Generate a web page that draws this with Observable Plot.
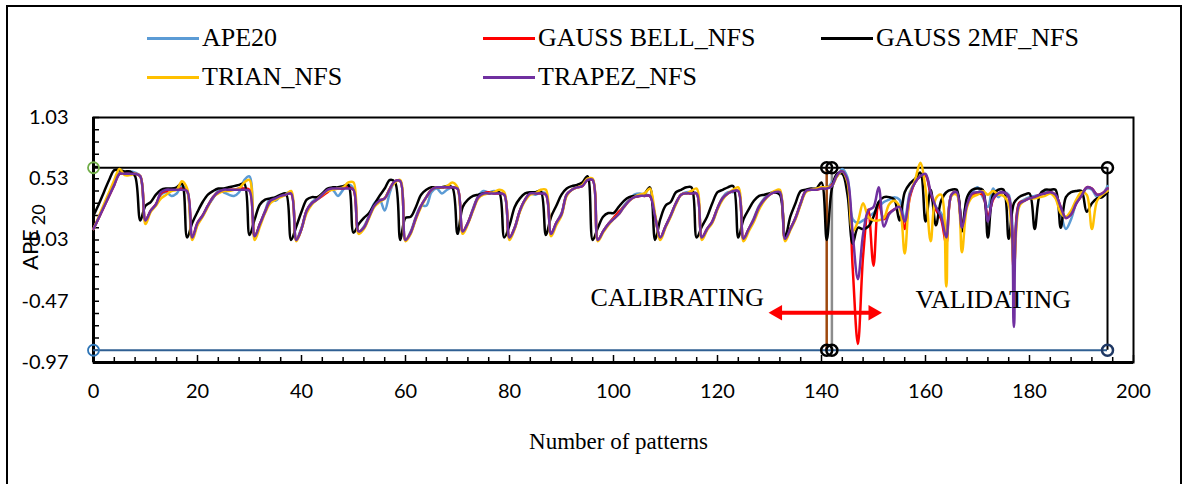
<!DOCTYPE html>
<html>
<head>
<meta charset="utf-8">
<script src="https://cdn.jsdelivr.net/npm/d3@7"></script>
<script src="https://cdn.jsdelivr.net/npm/@observablehq/plot@0.6"></script>
<style>
  html, body { margin: 0; padding: 0; background: #fff; }
  #page { position: relative; width: 1189px; height: 484px; overflow: hidden; background: #fff; }
  #border { position: absolute; left: 6px; top: 5px; width: 1176px; height: 530px; border: 2px solid #000; box-sizing: border-box; }
  .key-text { position: absolute; height: 26px; line-height: 26px; font-size: 26px; font-family: "Liberation Serif", "Times New Roman", serif; color: #000; white-space: nowrap; }
  .key-line { position: absolute; height: 3px; width: 52px; }
  #chart { position: absolute; left: 0; top: 100px; }
</style>
</head>
<body>
<div id="page">
  <div id="border"></div>
  <div id="legend"></div>
  <div id="chart"></div>
</div>
<script>
// Observed APE20 and the four neuro-fuzzy model outputs, one value per pattern (0..195)
const ape20 = [
  0.12, 0.21, 0.31, 0.41, 0.50, 0.58, 0.58, 0.59, 0.58, 0.55,
  0.19, 0.27, 0.32, 0.40, 0.42, 0.39, 0.41, 0.47, 0.43, 0.05,
  0.16, 0.23, 0.31, 0.37, 0.43, 0.42, 0.40, 0.39, 0.42, 0.52,
  0.55, 0.06, 0.16, 0.27, 0.37, 0.35, 0.39, 0.41, 0.42, 0.04,
  0.13, 0.27, 0.34, 0.37, 0.41, 0.44, 0.44, 0.39, 0.44, 0.48,
  0.45, 0.10, 0.14, 0.23, 0.33, 0.36, 0.27, 0.42, 0.51, 0.51,
  0.03, 0.10, 0.22, 0.31, 0.31, 0.42, 0.45, 0.41, 0.44, 0.46,
  0.45, 0.10, 0.17, 0.29, 0.39, 0.43, 0.42, 0.43, 0.42, 0.40,
  0.05, 0.13, 0.27, 0.36, 0.41, 0.40, 0.42, 0.41, 0.08, 0.17,
  0.25, 0.40, 0.44, 0.47, 0.48, 0.52, 0.52, 0.03, 0.10, 0.16,
  0.21, 0.25, 0.31, 0.36, 0.40, 0.41, 0.40, 0.39, 0.22, 0.05,
  0.14, 0.23, 0.33, 0.40, 0.42, 0.42, 0.41, 0.05, 0.12, 0.18,
  0.29, 0.38, 0.42, 0.42, 0.43, 0.04, 0.12, 0.21, 0.31, 0.37,
  0.41, 0.42, 0.43, 0.04, 0.12, 0.21, 0.33, 0.43, 0.44, 0.45,
  0.45, 0.45, 0.50, 0.55, 0.61, 0.54, 0.20, 0.17, 0.19, 0.22,
  0.25, 0.30, 0.34, 0.36, 0.38, 0.36, 0.20, 0.42, 0.50, 0.55,
  0.56, 0.40, 0.30, 0.25, 0.12, 0.40, 0.42, 0.15, 0.36, 0.42,
  0.46, 0.38, 0.30, 0.45, 0.38, 0.42, 0.40, 0.01, 0.33, 0.36,
  0.38, 0.39, 0.40, 0.42, 0.43, 0.38, 0.25, 0.12, 0.20, 0.33,
  0.40, 0.45, 0.44, 0.38, 0.40, 0.47
];
const gaussBellNfs = [
  0.12, 0.21, 0.30, 0.39, 0.48, 0.57, 0.57, 0.57, 0.57, 0.55,
  0.19, 0.27, 0.32, 0.41, 0.43, 0.44, 0.44, 0.45, 0.43, 0.05,
  0.17, 0.23, 0.31, 0.38, 0.42, 0.43, 0.44, 0.44, 0.45, 0.45,
  0.44, 0.06, 0.16, 0.26, 0.35, 0.37, 0.39, 0.40, 0.41, 0.03,
  0.12, 0.27, 0.33, 0.36, 0.39, 0.42, 0.45, 0.45, 0.45, 0.46,
  0.44, 0.10, 0.13, 0.22, 0.31, 0.35, 0.37, 0.45, 0.51, 0.51,
  0.03, 0.09, 0.21, 0.31, 0.38, 0.44, 0.46, 0.46, 0.46, 0.46,
  0.45, 0.10, 0.17, 0.28, 0.38, 0.41, 0.42, 0.41, 0.41, 0.40,
  0.05, 0.13, 0.27, 0.36, 0.41, 0.41, 0.41, 0.40, 0.08, 0.17,
  0.24, 0.40, 0.44, 0.46, 0.47, 0.52, 0.52, 0.03, 0.10, 0.16,
  0.21, 0.26, 0.30, 0.35, 0.38, 0.39, 0.39, 0.39, 0.22, 0.05,
  0.14, 0.23, 0.33, 0.40, 0.41, 0.41, 0.41, 0.05, 0.12, 0.18,
  0.29, 0.37, 0.41, 0.43, 0.43, 0.04, 0.12, 0.20, 0.30, 0.36,
  0.40, 0.42, 0.42, 0.04, 0.12, 0.21, 0.33, 0.43, 0.44, 0.44,
  0.45, 0.45, 0.48, 0.56, 0.59, 0.50, -0.20, -0.82, -0.10, 0.28,
  -0.18, 0.33, 0.20, 0.25, 0.28, 0.30, 0.12, 0.38, 0.50, 0.55,
  0.56, 0.40, 0.28, 0.20, 0.00, 0.40, 0.42, 0.15, 0.32, 0.40,
  0.41, 0.40, 0.22, 0.36, 0.41, 0.42, 0.38, -0.22, 0.33, 0.35,
  0.37, 0.38, 0.40, 0.41, 0.42, 0.40, 0.30, 0.21, 0.24, 0.33,
  0.39, 0.46, 0.45, 0.40, 0.41, 0.45
];
const gauss2mfNfs = [
  0.23, 0.32, 0.42, 0.52, 0.60, 0.60, 0.59, 0.59, 0.55, 0.19,
  0.31, 0.34, 0.40, 0.44, 0.45, 0.45, 0.46, 0.49, 0.05, 0.17,
  0.26, 0.34, 0.40, 0.43, 0.45, 0.45, 0.46, 0.47, 0.48, 0.49,
  0.07, 0.20, 0.32, 0.36, 0.37, 0.38, 0.40, 0.41, 0.03, 0.14,
  0.26, 0.36, 0.38, 0.38, 0.41, 0.45, 0.46, 0.46, 0.47, 0.48,
  0.09, 0.16, 0.21, 0.25, 0.32, 0.39, 0.45, 0.52, 0.50, 0.03,
  0.21, 0.22, 0.30, 0.40, 0.44, 0.46, 0.46, 0.46, 0.47, 0.46,
  0.08, 0.30, 0.36, 0.39, 0.40, 0.41, 0.41, 0.42, 0.42, 0.05,
  0.15, 0.30, 0.37, 0.41, 0.42, 0.42, 0.43, 0.07, 0.22, 0.31,
  0.40, 0.45, 0.47, 0.48, 0.50, 0.55, 0.03, 0.13, 0.22, 0.25,
  0.25, 0.30, 0.35, 0.38, 0.39, 0.39, 0.41, 0.46, 0.03, 0.20,
  0.31, 0.34, 0.42, 0.44, 0.46, 0.46, 0.05, 0.14, 0.22, 0.33,
  0.42, 0.44, 0.46, 0.47, 0.05, 0.20, 0.28, 0.35, 0.39, 0.40,
  0.41, 0.42, 0.40, 0.05, 0.22, 0.33, 0.43, 0.44, 0.45, 0.45,
  0.50, 0.03, 0.45, 0.57, 0.57, 0.40, 0.00, 0.13, 0.12, 0.14,
  0.22, 0.34, 0.38, 0.38, 0.36, 0.19, 0.42, 0.49, 0.53, 0.58,
  0.18, 0.44, 0.15, 0.35, 0.42, 0.44, 0.44, 0.10, 0.38, 0.44,
  0.45, 0.44, 0.05, 0.40, 0.44, 0.44, 0.04, 0.33, 0.38, 0.40,
  0.41, 0.12, 0.40, 0.44, 0.44, 0.44, 0.13, 0.38, 0.42, 0.43,
  0.43, 0.26, 0.33, 0.37, 0.38, 0.42
];
const trianNfs = [
  0.12, 0.22, 0.32, 0.42, 0.52, 0.61, 0.56, 0.56, 0.57, 0.55,
  0.16, 0.26, 0.31, 0.37, 0.40, 0.43, 0.44, 0.51, 0.45, 0.03,
  0.15, 0.22, 0.30, 0.38, 0.41, 0.43, 0.43, 0.44, 0.45, 0.50,
  0.52, 0.03, 0.14, 0.25, 0.33, 0.36, 0.38, 0.40, 0.43, 0.02,
  0.12, 0.25, 0.32, 0.36, 0.40, 0.43, 0.44, 0.45, 0.46, 0.50,
  0.50, 0.08, 0.12, 0.21, 0.30, 0.34, 0.37, 0.45, 0.50, 0.52,
  0.02, 0.08, 0.20, 0.30, 0.38, 0.44, 0.46, 0.46, 0.47, 0.50,
  0.46, 0.08, 0.16, 0.27, 0.37, 0.40, 0.41, 0.42, 0.44, 0.42,
  0.03, 0.12, 0.26, 0.35, 0.40, 0.41, 0.44, 0.44, 0.06, 0.15,
  0.23, 0.39, 0.44, 0.46, 0.48, 0.53, 0.53, 0.02, 0.09, 0.15,
  0.20, 0.24, 0.30, 0.35, 0.38, 0.40, 0.41, 0.45, 0.24, 0.03,
  0.13, 0.22, 0.32, 0.40, 0.41, 0.43, 0.45, 0.03, 0.11, 0.17,
  0.28, 0.36, 0.41, 0.44, 0.46, 0.02, 0.10, 0.18, 0.28, 0.35,
  0.40, 0.43, 0.44, 0.02, 0.11, 0.20, 0.32, 0.42, 0.44, 0.45,
  0.46, 0.46, 0.47, 0.55, 0.59, 0.50, 0.10, 0.18, 0.33, 0.22,
  0.19, 0.19, 0.21, 0.32, 0.35, 0.30, -0.08, 0.40, 0.52, 0.66,
  0.45, 0.02, 0.37, 0.40, -0.35, 0.39, 0.40, -0.07, 0.30, 0.38,
  0.40, 0.43, 0.40, 0.43, 0.40, 0.39, 0.32, -0.18, 0.30, 0.35,
  0.37, 0.37, 0.38, 0.39, 0.41, 0.37, 0.25, 0.22, 0.27, 0.36,
  0.42, 0.40, 0.12, 0.35, 0.40, 0.43
];
const trapezNfs = [
  0.12, 0.21, 0.30, 0.39, 0.48, 0.57, 0.57, 0.57, 0.57, 0.55,
  0.19, 0.27, 0.32, 0.42, 0.44, 0.44, 0.44, 0.44, 0.43, 0.05,
  0.17, 0.23, 0.31, 0.38, 0.42, 0.44, 0.44, 0.44, 0.44, 0.44,
  0.43, 0.06, 0.16, 0.26, 0.35, 0.37, 0.39, 0.40, 0.41, 0.03,
  0.12, 0.27, 0.33, 0.36, 0.40, 0.44, 0.45, 0.45, 0.45, 0.45,
  0.44, 0.10, 0.13, 0.22, 0.31, 0.35, 0.37, 0.45, 0.51, 0.51,
  0.03, 0.09, 0.21, 0.31, 0.38, 0.44, 0.46, 0.46, 0.46, 0.46,
  0.45, 0.10, 0.17, 0.28, 0.38, 0.41, 0.41, 0.41, 0.41, 0.40,
  0.05, 0.13, 0.27, 0.36, 0.41, 0.41, 0.41, 0.40, 0.08, 0.17,
  0.24, 0.40, 0.44, 0.46, 0.47, 0.52, 0.52, 0.03, 0.10, 0.16,
  0.20, 0.24, 0.30, 0.35, 0.38, 0.39, 0.39, 0.39, 0.22, 0.05,
  0.14, 0.23, 0.33, 0.40, 0.41, 0.41, 0.41, 0.05, 0.12, 0.18,
  0.29, 0.37, 0.41, 0.43, 0.43, 0.04, 0.12, 0.20, 0.30, 0.36,
  0.40, 0.42, 0.42, 0.04, 0.12, 0.21, 0.33, 0.43, 0.44, 0.44,
  0.45, 0.45, 0.47, 0.56, 0.59, 0.52, 0.08, -0.29, 0.08, 0.27,
  0.30, 0.46, 0.14, 0.24, 0.28, 0.30, 0.18, 0.40, 0.50, 0.55,
  0.57, 0.42, 0.30, 0.22, 0.05, 0.40, 0.42, 0.13, 0.32, 0.41,
  0.42, 0.42, 0.18, 0.37, 0.41, 0.42, 0.38, -0.68, 0.32, 0.35,
  0.37, 0.38, 0.40, 0.41, 0.42, 0.40, 0.30, 0.21, 0.24, 0.33,
  0.39, 0.46, 0.45, 0.40, 0.41, 0.45
];

const seriesNames = ["APE20", "GAUSS BELL_NFS", "GAUSS 2MF_NFS", "TRIAN_NFS", "TRAPEZ_NFS"];
const seriesColors = ["#5B9BD5", "#FF0000", "#000000", "#FFC000", "#7030A0"];
const seriesValues = [ape20, gaussBellNfs, gauss2mfNfs, trianNfs, trapezNfs];

// Axis ticks
const xTickLabels = [0, 20, 40, 60, 80, 100, 120, 140, 160, 180, 200];
const yTickLabels = [-0.97, -0.47, 0.03, 0.53, 1.03];

// Calibration / validation window
const upperLimit = 0.62;
const lowerLimit = -0.87;
const calibrationEnd = 141;
const validationStart = 142;
const lastPattern = 195;

// ---- legend (HTML, above the plot area) ----
const legend = document.getElementById("legend");
const legendCols = [147, 483, 821];
const legendRows = [38, 77];
seriesNames.forEach((name, k) => {
  const left = legendCols[k % 3];
  const mid = legendRows[Math.floor(k / 3)];
  const line = document.createElement("div");
  line.className = "key-line";
  line.style.left = left + "px";
  line.style.top = (mid - 1.5) + "px";
  line.style.background = seriesColors[k];
  legend.appendChild(line);
  const label = document.createElement("div");
  label.className = "key-text";
  label.style.left = (left + 55) + "px";
  label.style.top = (mid - 13) + "px";
  label.textContent = name;
  legend.appendChild(label);
});

// ---- chart ----
const W = 1189, H = 384;
const mL = 93, mR = 56, mT = 17, mB = 122;
const plotW = W - mL - mR;
const plotH = H - mT - mB;
const serif = "'Liberation Serif', 'Times New Roman', serif";

const xMinor = d3.range(0, 201, 4).filter(d => d % 20 !== 0);
const yMinor = d3.range(0, 21).map(i => -0.97 + i * 0.1);

const chart = Plot.plot({
  width: W,
  height: H,
  marginLeft: mL,
  marginRight: mR,
  marginTop: mT,
  marginBottom: mB,
  x: {domain: [0, 200]},
  y: {domain: [-0.97, 1.03]},
  style: {background: "transparent", color: "#000", fontFamily: "Lato, 'Open Sans', sans-serif", fontSize: "20px", overflow: "visible"},
  marks: [
    // inward tick marks
    Plot.tickX(xMinor, {x: d => d, insetTop: plotH - 5, stroke: "#000", strokeWidth: 1.5}),
    Plot.tickX(xTickLabels, {x: d => d, insetTop: plotH - 7, stroke: "#000", strokeWidth: 1.5}),
    Plot.tickY(yMinor, {y: d => d, insetRight: plotW - 6, stroke: "#000", strokeWidth: 1.5}),
    Plot.axisX(xTickLabels, {tickSize: 0, tickPadding: 21, tickFormat: d => String(d), label: null, fontSize: 20}),
    Plot.axisY(yTickLabels, {tickSize: 0, tickPadding: 25, tickFormat: d => d.toFixed(2), label: null, fontSize: 20}),
    Plot.frame({stroke: "#000", strokeWidth: 2}),
    Plot.ruleX([0], {stroke: "#000", strokeWidth: 3}),
    Plot.ruleY([-0.97], {stroke: "#000", strokeWidth: 3}),

    // window bounds
    Plot.ruleY([upperLimit], {x1: 0, x2: lastPattern, stroke: "#000", strokeWidth: 2}),
    Plot.ruleY([lowerLimit], {x1: 0, x2: lastPattern, stroke: "#2F5F92", strokeWidth: 2.2}),
    Plot.ruleX([calibrationEnd], {y1: lowerLimit, y2: upperLimit, stroke: "#9E480E", strokeWidth: 2.5}),
    Plot.ruleX([validationStart], {y1: lowerLimit, y2: upperLimit, stroke: "#8C8C8C", strokeWidth: 2.5}),
    Plot.ruleX([lastPattern], {y1: lowerLimit, y2: upperLimit, stroke: "#000", strokeWidth: 2}),

    // model outputs and observed series
    ...seriesValues.map((values, k) =>
      Plot.line(values, {
        x: (d, i) => i,
        y: d => d,
        stroke: seriesColors[k],
        strokeWidth: 2.5,
        strokeLinejoin: "round",
        curve: "catmull-rom"
      })
    ),

    // window corner markers
    Plot.dot([upperLimit], {x: 0, y: d => d, r: 5.5, stroke: "#70AD47", strokeWidth: 1.8, fill: "none"}),
    Plot.dot([lowerLimit], {x: 0, y: d => d, r: 5.5, stroke: "#2E75B6", strokeWidth: 1.8, fill: "none"}),
    Plot.dot([calibrationEnd, validationStart, lastPattern], {x: d => d, y: upperLimit, r: 5.5, stroke: "#000", strokeWidth: 2.5, fill: "none"}),
    Plot.dot([calibrationEnd, validationStart], {x: d => d, y: lowerLimit, r: 5.5, stroke: "#000", strokeWidth: 2.5, fill: "none"}),
    Plot.dot([lastPattern], {x: d => d, y: lowerLimit, r: 5.5, stroke: "#1F3864", strokeWidth: 2.5, fill: "none"}),

    // two-headed arrow across the split
    Plot.ruleY([-0.564], {x1: 131.55, x2: 149.9, stroke: "#FF0000", strokeWidth: 4}),
    Plot.dot([149.9], {x: d => d, y: -0.564, symbol: "triangle", r: 5.8, fill: "#FF0000", stroke: "none", rotate: 90}),
    Plot.dot([131.55], {x: d => d, y: -0.564, symbol: "triangle", r: 5.8, fill: "#FF0000", stroke: "none", rotate: -90}),

    // annotations
    Plot.text(["CALIBRATING"], {x: 95.6, y: -0.44, text: d => d, textAnchor: "start", lineAnchor: "middle", fontSize: 26, fontFamily: serif}),
    Plot.text(["VALIDATING"], {x: 158.1, y: -0.456, text: d => d, textAnchor: "start", lineAnchor: "middle", fontSize: 26, fontFamily: serif}),
    Plot.text(["Number of patterns"], {frameAnchor: "bottom", dy: 79, dx: 5, text: d => d, lineAnchor: "middle", fontSize: 23, fontFamily: serif})
  ]
});

// y-axis title with subscript
const svg = chart.tagName.toLowerCase() === "svg" ? chart : chart.querySelector("svg");
const yTitle = d3.select(svg).append("text")
  .attr("transform", "translate(38,170) rotate(-90)")
  .attr("text-anchor", "start")
  .attr("font-family", "Lato, 'Open Sans', sans-serif")
  .attr("font-size", 22)
  .attr("fill", "#000");
yTitle.append("tspan").text("APE");
yTitle.append("tspan").attr("dx", 4).attr("dy", 7).attr("font-size", 18).text("20");

document.getElementById("chart").appendChild(chart);
</script>
</body>
</html>
